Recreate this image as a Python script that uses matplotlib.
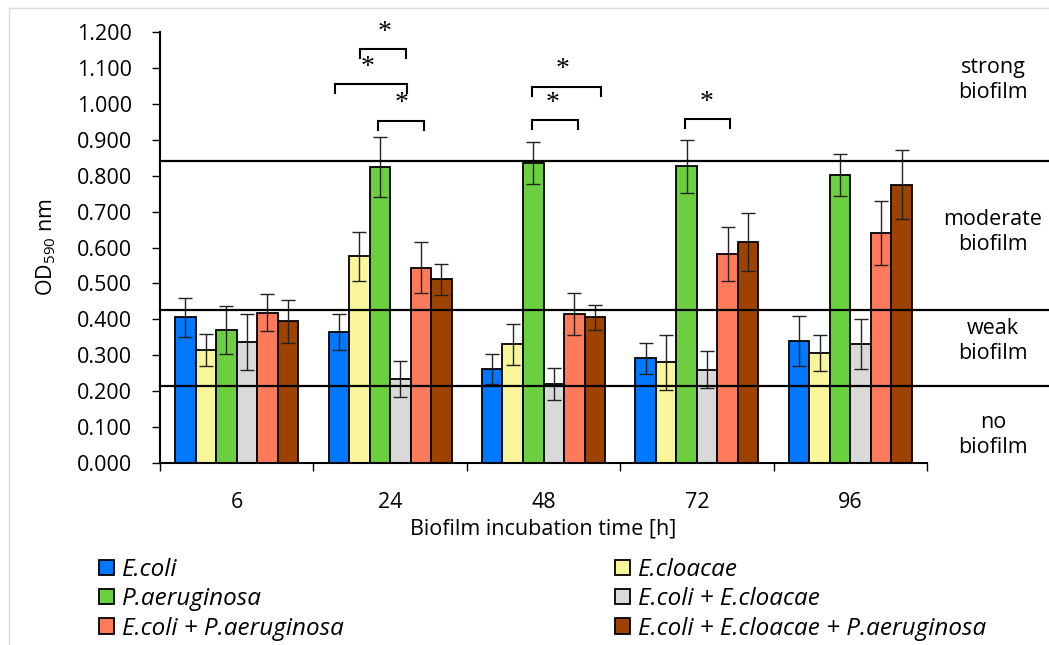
import numpy as np
import matplotlib
matplotlib.use('Agg')
import matplotlib.pyplot as plt
from matplotlib.patches import Patch
from matplotlib.lines import Line2D

plt.rcParams['font.family'] = ['Open Sans', 'DejaVu Sans']
plt.rcParams['mathtext.default'] = 'regular'

# data
times = ['6', '24', '48', '72', '96']
strains = ['E.coli', 'E.cloacae', 'P.aeruginosa', 'E.coli + E.cloacae',
           'E.coli + P.aeruginosa', 'E.coli + E.cloacae + P.aeruginosa']
colors = ['#0078FF', '#F9F59B', '#6CCF3F', '#D9D9D9', '#FF7A5A', '#9E4200']

ecoli = [0.406, 0.365, 0.262, 0.292, 0.340]
ecloacae = [0.315, 0.575, 0.330, 0.280, 0.306]
paerug = [0.370, 0.825, 0.836, 0.826, 0.802]
ecoli_ecl = [0.337, 0.234, 0.220, 0.260, 0.332]
ecoli_pa = [0.419, 0.544, 0.414, 0.581, 0.640]
triple = [0.395, 0.511, 0.406, 0.615, 0.775]

ecoli_err = [0.054, 0.050, 0.042, 0.043, 0.069]
ecloacae_err = [0.045, 0.068, 0.057, 0.077, 0.051]
paerug_err = [0.067, 0.084, 0.058, 0.074, 0.058]
ecoli_ecl_err = [0.078, 0.050, 0.045, 0.052, 0.070]
ecoli_pa_err = [0.051, 0.070, 0.058, 0.075, 0.089]
triple_err = [0.060, 0.042, 0.035, 0.081, 0.096]

values = [ecoli, ecloacae, paerug, ecoli_ecl, ecoli_pa, triple]
errors = [ecoli_err, ecloacae_err, paerug_err, ecoli_ecl_err, ecoli_pa_err, triple_err]

# biofilm classification cut-offs and their labels
cutoffs = [0.841, 0.427, 0.214]
zone_labels = ['strong\nbiofilm', 'moderate\nbiofilm', 'weak\nbiofilm', 'no\nbiofilm']
zone_label_y = [1.067, 0.643, 0.340, 0.078]

# significance brackets: x start, x end, height, star x
brackets = [(0.802, 1.102, 1.153, 0.965),
            (0.639, 1.107, 1.055, 0.854),
            (0.919, 1.219, 0.953, 1.075),
            (1.923, 2.373, 1.048, 2.123),
            (1.923, 2.222, 0.954, 2.060),
            (2.920, 3.218, 0.957, 3.063)]

fs = 15.5
fig = plt.figure(figsize=(10.49, 6.45), dpi=100)
ax = fig.add_axes([160/1049, 1-463/645, 767/1049, 431/645])

x = np.arange(len(times))
w = 0.1337
for j in range(len(strains)):
    ax.bar(x + (j - 2.5)*w, values[j], w, color=colors[j], edgecolor='black',
           linewidth=1.3, zorder=2, label=strains[j])
    ax.errorbar(x + (j - 2.5)*w, values[j], yerr=errors[j], fmt='none',
                ecolor='#222222', elinewidth=1, capsize=5, capthick=1, zorder=3)

for c in cutoffs:
    ax.axhline(c, xmin=0, xmax=(1049-160)/767, color='black', lw=1.6,
               clip_on=False, zorder=4)

for lab, yy in zip(zone_labels, zone_label_y):
    ax.text(1.086, yy, lab, transform=ax.get_yaxis_transform(), ha='center',
            va='center', fontsize=fs, linespacing=1.25)

leg_h = 0.025
for x0, x1, yb, sx in brackets:
    ax.plot([x0, x0, x1, x1], [yb - leg_h, yb, yb, yb - leg_h], color='black',
            lw=1.5, solid_joinstyle='miter', zorder=5, clip_on=False)
    ax.text(sx, yb + 0.012, '*', ha='center', va='bottom', fontsize=20,
            family='Liberation Serif')

ax.set_xlim(-0.5, 4.5)
ax.set_ylim(0, 1.2)
ax.set_yticks(np.arange(0, 1.21, 0.1))
ax.set_yticklabels(['%.3f' % v for v in np.arange(0, 1.21, 0.1)])
ax.set_xticks(x)
ax.set_xticklabels(times)
ax.set_xticks(np.arange(-0.5, 4.6, 1), minor=True)
ax.tick_params(axis='x', which='major', length=0, pad=21, labelsize=fs)
ax.tick_params(axis='x', which='minor', length=6, width=1, direction='out')
ax.tick_params(axis='y', length=6, width=1, pad=14, labelsize=fs)
for s in ['top', 'right']:
    ax.spines[s].set_visible(False)
ax.spines['left'].set_linewidth(1.5)
ax.spines['bottom'].set_linewidth(1.5)

ax.set_xlabel('Biofilm incubation time [h]', fontsize=fs, labelpad=4)
ax.set_ylabel('OD$_{590}$ nm', fontsize=fs, labelpad=14)

handles = [Patch(facecolor=colors[j], edgecolor='black', linewidth=1.3) for j in range(6)]
legkw = dict(frameon=False, prop={'style': 'italic', 'size': 17.5},
             handlelength=0.6, handleheight=0.6, handletextpad=0.35,
             labelspacing=0.22, borderaxespad=0, borderpad=0)
fig.legend([handles[i] for i in [0, 2, 4]], [strains[i] for i in [0, 2, 4]],
           loc='upper left', bbox_to_anchor=(99/1049, 1-558/645), **legkw)
fig.legend([handles[i] for i in [1, 3, 5]], [strains[i] for i in [1, 3, 5]],
           loc='upper left', bbox_to_anchor=(615/1049, 1-558/645), **legkw)

# light frame around the chart area
fig.add_artist(Line2D([9/1049, 9/1049], [0, 1-8/645], color='#d9d9d9', lw=1))
fig.add_artist(Line2D([9/1049, 1], [1-8/645, 1-8/645], color='#d9d9d9', lw=1))

fig.savefig('out.png', dpi=100)
